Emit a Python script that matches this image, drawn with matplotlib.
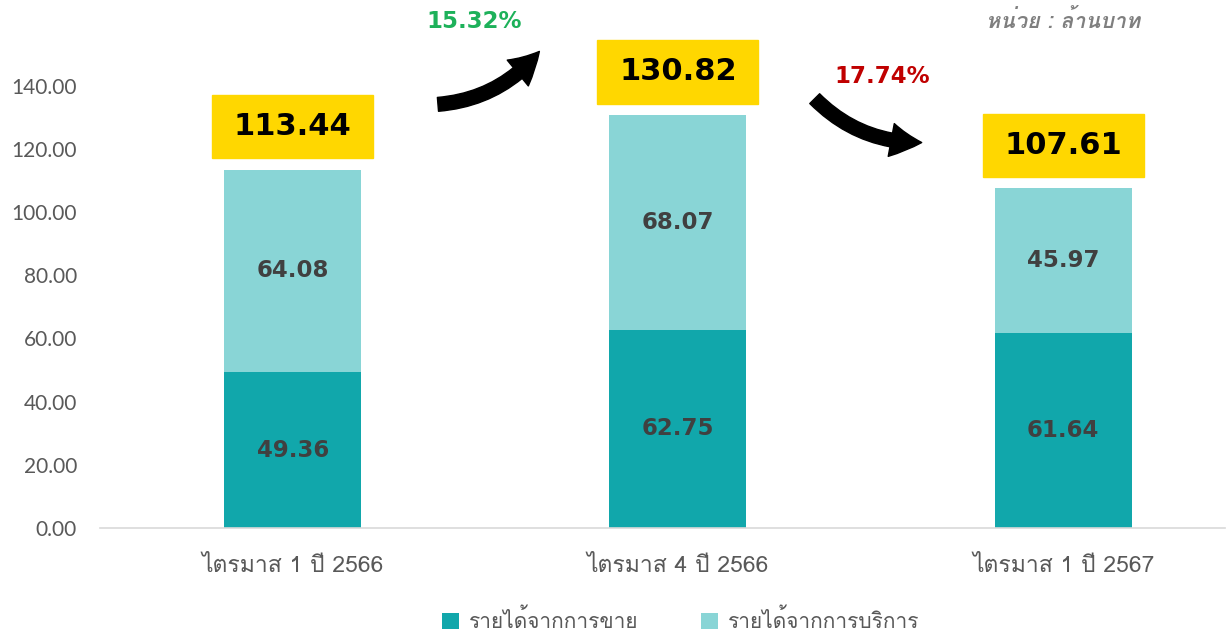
import matplotlib
matplotlib.use("Agg")
import matplotlib.pyplot as plt
import matplotlib.font_manager as fm
from matplotlib.ft2font import FT2Font
from matplotlib.patches import Rectangle, FancyArrowPatch
import numpy as np

# data
quarters = ["ไตรมาส 1 ปี 2566", "ไตรมาส 4 ปี 2566", "ไตรมาส 1 ปี 2567"]
sales = [49.36, 62.75, 61.64]
services = [64.08, 68.07, 45.97]
totals = [113.44, 130.82, 107.61]
changes = ["15.32%", "17.74%"]
series_names = ["รายได้จากการขาย", "รายได้จากการบริการ"]
unit_label = "หน่วย : ล้านบาท"


def find_thai_font():
    for f in fm.fontManager.ttflist:
        try:
            if 0x0E01 in FT2Font(f.fname).get_charmap():
                return f.name
        except Exception:
            continue
    return None


thai = find_thai_font()
fams = [thai, "DejaVu Sans"] if thai else ["DejaVu Sans"]
plt.rcParams["font.family"] = fams

dark = "#11A7AB"
light = "#89D5D6"
yellow = "#FFD700"
grey = "#595959"

fig = plt.figure(figsize=(12.27, 6.43), dpi=100)
ax = fig.add_axes([100 / 1227, 115 / 643, 1125 / 1227, 474 / 643])

x = np.arange(len(quarters))
w = 0.356
ax.bar(x, sales, w, color=dark, label=series_names[0], zorder=2)
ax.bar(x, services, w, bottom=sales, color=light, label=series_names[1], zorder=2)

for i in range(len(x)):
    ax.text(x[i], sales[i] / 2, f"{sales[i]:.2f}", ha="center", va="center",
            fontsize=16.5, fontweight="bold", color="#404040", family="DejaVu Sans")
    ax.text(x[i], sales[i] + services[i] / 2, f"{services[i]:.2f}", ha="center", va="center",
            fontsize=16.5, fontweight="bold", color="#404040", family="DejaVu Sans")
    # yellow total box
    bw, bh = 0.418, 20
    b0 = totals[i] + 3.5
    ax.add_patch(Rectangle((x[i] - bw / 2, b0), bw, bh, color=yellow, clip_on=False, zorder=3))
    ax.text(x[i], b0 + bh / 2, f"{totals[i]:.2f}", ha="center", va="center",
            fontsize=22, fontweight="bold", color="black", family="DejaVu Sans", zorder=4)

# change arrows
style = "simple,head_width=24,head_length=22,tail_width=10"
a1 = FancyArrowPatch((x[0] + 0.37, 134.0), (x[0] + 0.645, 151.5),
                     connectionstyle="arc3,rad=0.22", arrowstyle=style,
                     color="black", clip_on=False, zorder=3)
ax.add_patch(a1)
a2 = FancyArrowPatch((x[1] + 0.35, 136.5), (x[1] + 0.64, 122.0),
                     connectionstyle="arc3,rad=0.22", arrowstyle=style,
                     color="black", clip_on=False, zorder=3)
ax.add_patch(a2)
ax.text(x[0] + 0.47, 160.2, changes[0], ha="center", va="center", fontsize=16.5,
        fontweight="bold", color="#1DB15A", family="DejaVu Sans", clip_on=False)
ax.text(x[1] + 0.53, 143, changes[1], ha="center", va="center", fontsize=16.5,
        fontweight="bold", color="#C00000", family="DejaVu Sans", clip_on=False)

fig.text(1140 / 1227, 1 - 21 / 643, unit_label, ha="right", va="center", fontsize=15.5,
         fontweight="bold", style="italic", color="#7F7F7F")

ax.set_xlim(-0.5, 2.42)
ax.set_ylim(0, 150)
ax.set_yticks(np.arange(0, 141, 20))
ax.set_yticklabels([f"{v:.2f}" for v in np.arange(0, 141, 20)], family="Lato")
ax.set_xticks(x)
ax.set_xticklabels(quarters)
ax.tick_params(axis="y", length=0, labelsize=15, labelcolor=grey, pad=16.5)
ax.tick_params(axis="x", length=0, labelsize=16.5, labelcolor=grey, pad=20)
for s in ["top", "right", "left"]:
    ax.spines[s].set_visible(False)
ax.spines["bottom"].set_color("#D9D9D9")
ax.spines["bottom"].set_linewidth(1.2)

fig.legend(loc="lower center", bbox_to_anchor=(0.555, -0.012), ncol=2, frameon=False,
           fontsize=15, handlelength=0.8, handleheight=0.8, columnspacing=3,
           handletextpad=0.5, labelcolor=grey)

fig.savefig("out.png", dpi=100)
